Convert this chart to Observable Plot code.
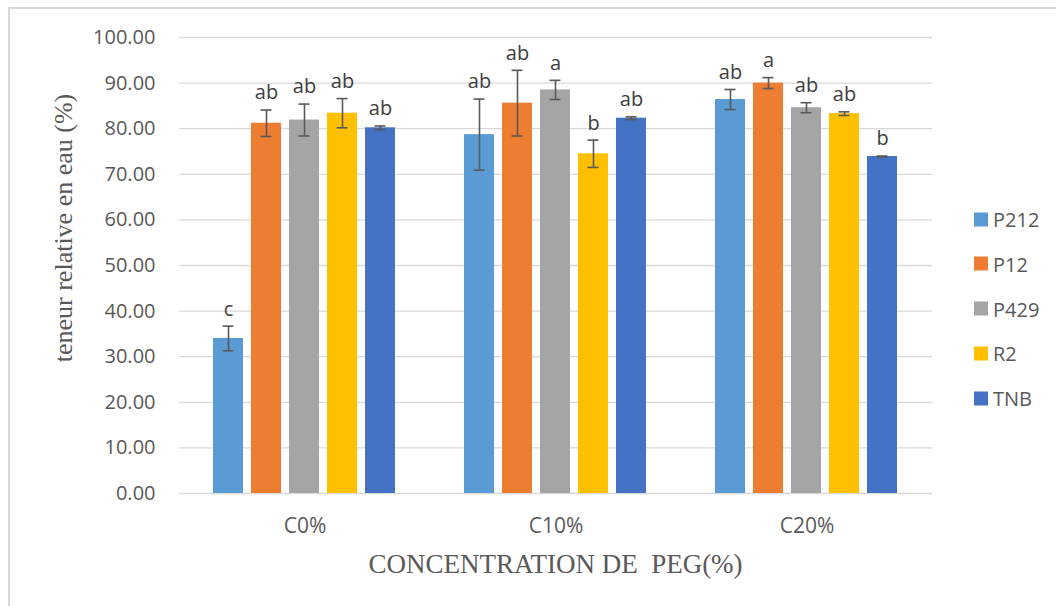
<!DOCTYPE html>
<html>
<head>
<meta charset="utf-8">
<script src="https://cdn.jsdelivr.net/npm/d3@7"></script>
<script src="https://cdn.jsdelivr.net/npm/@observablehq/plot@0.6"></script>
<style>
  html, body { margin: 0; padding: 0; background: #fff; }
  #chart { position: relative; width: 1056px; height: 606px; overflow: hidden; font-family: "Open Sans", sans-serif; }
  #frame { position: absolute; left: 8px; top: 7px; right: -4px; bottom: -4px; border-left: 2px solid #d9d9d9; border-top: 2px solid #d9d9d9; }
  #chart svg { position: absolute; left: 0; top: 0; }
  #xtitle { position: absolute; left: 0; width: 1111px; top: 548px; text-align: center; font-family: "Liberation Serif", serif; font-size: 27px; line-height: 32px; color: #595959; white-space: pre; }
  #ytitle { position: absolute; left: 64px; top: 228px; width: 0; height: 0; }
  #ytitle span { position: absolute; left: 0; top: 0; transform: translate(-50%, -50%) rotate(-90deg); white-space: nowrap; font-family: "Liberation Serif", serif; font-size: 26px; line-height: 30px; color: #595959; }
  #legend { position: absolute; left: 974px; top: 0; }
  .item { position: absolute; left: 0; display: flex; align-items: center; white-space: nowrap; font-size: 20px; color: #595959; transform: translateY(-50%); }
  .sw { width: 14px; height: 14px; margin-right: 5px; flex: none; }
</style>
</head>
<body>
<div id="chart">
  <div id="frame"></div>
  <div id="ytitle"><span></span></div>
  <div id="xtitle"></div>
  <div id="legend"></div>
</div>
<script>
// PEG concentration levels (x groups) and the five varieties (series)
const groups = ["C0%", "C10%", "C20%"];
const varieties = ["P212", "P12", "P429", "R2", "TNB"];
const colors = ["#5B9BD5", "#ED7D31", "#A5A5A5", "#FFC000", "#4472C4"];

// Mean relative water content (%) per variety, one array per PEG level
const meanC0  = [34.0, 81.2, 81.9, 83.4, 80.2];
const meanC10 = [78.7, 85.6, 88.5, 74.5, 82.3];
const meanC20 = [86.4, 90.0, 84.6, 83.3, 73.9];

// Standard deviations shown as error bars
const sdC0  = [2.7, 2.9, 3.5, 3.2, 0.4];
const sdC10 = [7.8, 7.2, 2.1, 3.0, 0.3];
const sdC20 = [2.2, 1.2, 1.1, 0.4, 0.1];

// Significance letters
const lettersC0  = ["c", "ab", "ab", "ab", "ab"];
const lettersC10 = ["ab", "ab", "a", "b", "ab"];
const lettersC20 = ["ab", "a", "ab", "ab", "b"];

const yTicks = [0, 10, 20, 30, 40, 50, 60, 70, 80, 90, 100];
const yTitle = "teneur relative en eau (%)";
const xTitle = "CONCENTRATION DE  PEG(%)";

const means = [meanC0, meanC10, meanC20];
const sds = [sdC0, sdC10, sdC20];
const letters = [lettersC0, lettersC10, lettersC20];

const data = groups.flatMap((g, gi) => varieties.map((v, vi) => ({
  group: g,
  variety: v,
  mean: means[gi][vi],
  lo: means[gi][vi] - sds[gi][vi],
  hi: means[gi][vi] + sds[gi][vi],
  letter: letters[gi][vi]
})));

const textColor = "#595959";

const chart = Plot.plot({
  width: 1056,
  height: 606,
  marginTop: 37,
  marginLeft: 178,
  marginRight: 123,
  marginBottom: 113,
  style: { fontFamily: "Open Sans, sans-serif", background: "transparent", overflow: "visible" },
  fx: { domain: groups, padding: 0, label: null },
  x: { domain: varieties, paddingInner: 0.21, paddingOuter: 0.865, axis: null },
  y: { domain: [0, 100], label: null },
  color: { domain: varieties, range: colors },
  marks: [
    Plot.gridY(yTicks, { stroke: "#d9d9d9", strokeOpacity: 1, strokeWidth: 1.3 }),
    Plot.axisY(yTicks, {
      tickSize: 0, tickPadding: 24, fontSize: 20, fill: textColor,
      tickFormat: d => d.toFixed(2), label: null
    }),
    Plot.axisFx({
      anchor: "bottom", tickSize: 0, tickPadding: 25, fontSize: 21, fill: textColor, label: null
    }),
    Plot.barY(data, { fx: "group", x: "variety", y: "mean", fill: "variety" }),
    Plot.ruleX(data, { fx: "group", x: "variety", y1: "lo", y2: "hi", stroke: "#595959", strokeWidth: 1.6 }),
    Plot.tickY(data, { fx: "group", x: "variety", y: "hi", stroke: "#595959", strokeWidth: 1.6, insetLeft: 9.5, insetRight: 9.5 }),
    Plot.tickY(data, { fx: "group", x: "variety", y: "lo", stroke: "#595959", strokeWidth: 1.6, insetLeft: 9.5, insetRight: 9.5 }),
    Plot.text(data, { fx: "group", x: "variety", y: "hi", text: "letter", dy: -17, fontSize: 20, fill: "#404040" })
  ]
});

document.getElementById("chart").appendChild(chart);
document.querySelector("#ytitle span").textContent = yTitle;
document.getElementById("xtitle").textContent = xTitle;

// Vertical legend on the right
const legend = document.getElementById("legend");
varieties.forEach((v, i) => {
  const item = document.createElement("div");
  item.className = "item";
  item.style.top = (219 + i * 44.8) + "px";
  const sw = document.createElement("span");
  sw.className = "sw";
  sw.style.background = colors[i];
  const label = document.createElement("span");
  label.textContent = v;
  item.appendChild(sw);
  item.appendChild(label);
  legend.appendChild(item);
});
</script>
</body>
</html>
